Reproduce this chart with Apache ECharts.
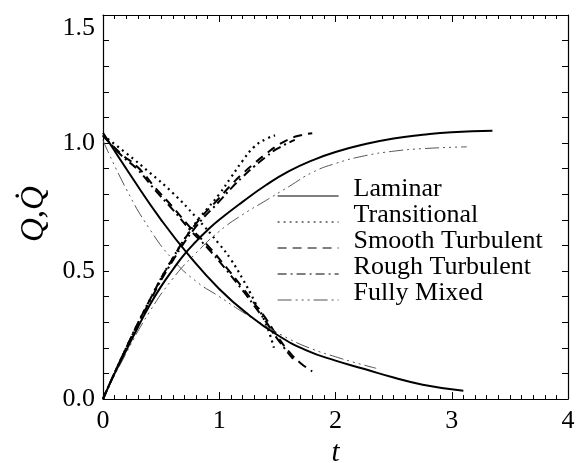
<!DOCTYPE html>
<html>
<head>
<meta charset="utf-8">
<script src="https://cdn.jsdelivr.net/npm/echarts@6/dist/echarts.min.js"></script>
<style>
  html, body { margin: 0; padding: 0; background: #fff; }
  #chart { width: 577px; height: 463px; }
</style>
</head>
<body>
<div id="chart"></div>
<script>
// Regime names (legend order)
const regimes = ['Laminar', 'Transitional', 'Smooth Turbulent', 'Rough Turbulent', 'Fully Mixed'];

// Tick labels
const xTicks = [0, 1, 2, 3, 4];
const yTicks = ['0.0', '0.5', '1.0', '1.5'];

// Laminar: Q (falling) and Q-dot (rising)
const lamQ_t = [0, 0.25, 0.5, 0.75, 1.0, 1.25, 1.5, 1.75, 2.0, 2.25, 2.5, 2.75, 3.1];
const lamQ_v = [1.04, 0.865, 0.70, 0.555, 0.43, 0.33, 0.25, 0.19, 0.15, 0.117, 0.084, 0.056, 0.032];
const lamQd_t = [0, 0.1, 0.2, 0.3, 0.4, 0.5, 0.6, 0.7, 0.8, 0.9, 1.0, 1.2, 1.4, 1.6, 1.8, 2.0, 2.25, 2.5, 2.75, 3.0, 3.35];
const lamQd_v = [0, 0.1, 0.19, 0.28, 0.365, 0.44, 0.505, 0.565, 0.615, 0.66, 0.70, 0.77, 0.835, 0.89, 0.932, 0.965, 0.995, 1.018, 1.032, 1.042, 1.048];

// Transitional
const traQ_t = [0, 0.2, 0.4, 0.6, 0.8, 1.0, 1.1, 1.2, 1.3, 1.4, 1.47];
const traQ_v = [1.03, 0.96, 0.885, 0.805, 0.71, 0.605, 0.545, 0.47, 0.385, 0.295, 0.2];
const traQd_t = [0, 0.2, 0.4, 0.6, 0.8, 0.9, 1.0, 1.1, 1.2, 1.3, 1.4, 1.48];
const traQd_v = [0, 0.2, 0.385, 0.55, 0.69, 0.745, 0.80, 0.865, 0.93, 0.985, 1.015, 1.03];

// Smooth turbulent
const smoQ_t = [0, 0.15, 0.3, 0.45, 0.6, 0.75, 0.9, 1.05, 1.2, 1.3, 1.4, 1.5, 1.6, 1.7, 1.8];
const smoQ_v = [1.03, 0.96, 0.905, 0.825, 0.75, 0.67, 0.6, 0.52, 0.435, 0.375, 0.315, 0.245, 0.185, 0.14, 0.108];
const smoQd_t = [0, 0.2, 0.4, 0.6, 0.8, 1.0, 1.1, 1.2, 1.3, 1.4, 1.5, 1.6, 1.7, 1.8];
const smoQd_v = [0, 0.2, 0.385, 0.55, 0.685, 0.785, 0.835, 0.88, 0.92, 0.957, 0.99, 1.015, 1.03, 1.038];

// Rough turbulent
const rouQ_t = [0, 0.15, 0.3, 0.45, 0.6, 0.75, 0.9, 1.05, 1.2, 1.3, 1.4, 1.5, 1.65];
const rouQ_v = [1.03, 0.955, 0.895, 0.815, 0.74, 0.66, 0.59, 0.51, 0.425, 0.365, 0.303, 0.235, 0.148];
const rouQd_t = [0, 0.2, 0.4, 0.6, 0.8, 1.0, 1.1, 1.2, 1.3, 1.4, 1.5, 1.65];
const rouQd_v = [0, 0.2, 0.38, 0.54, 0.673, 0.772, 0.822, 0.867, 0.908, 0.945, 0.978, 1.012];

// Fully mixed
const mixQ_t = [0, 0.2, 0.4, 0.6, 0.8, 1.0, 1.2, 1.4, 1.6, 1.8, 2.0, 2.2, 2.35];
const mixQ_v = [1.01, 0.82, 0.665, 0.545, 0.46, 0.40, 0.34, 0.285, 0.235, 0.195, 0.165, 0.138, 0.12];
const mixQd_t = [0, 0.2, 0.4, 0.6, 0.8, 1.0, 1.2, 1.4, 1.6, 1.8, 2.0, 2.25, 2.5, 2.75, 3.13];
const mixQd_v = [0, 0.18, 0.34, 0.47, 0.57, 0.655, 0.72, 0.775, 0.83, 0.885, 0.92, 0.95, 0.968, 0.978, 0.985];

const FONT = 'Liberation Serif';

const styles = {
  'Laminar':          { color: '#000', width: 2,   type: 'solid' },
  'Transitional':     { color: '#000', width: 2.2, type: [2, 4] },
  'Smooth Turbulent': { color: '#000', width: 2,   type: [9, 6] },
  'Rough Turbulent':  { color: '#000', width: 2,   type: [9, 4, 2, 4] },
  'Fully Mixed':      { color: '#555', width: 1,   type: [14, 4, 2, 4, 2, 4, 2, 4] }
};

function zip(ts, vs) { return ts.map((t, i) => [t, vs[i]]); }

function curve(name, ts, vs) {
  const s = styles[name];
  return {
    name: name,
    type: 'line',
    data: zip(ts, vs),
    symbol: 'none',
    smooth: 0.5,
    color: s.color,
    lineStyle: { color: s.color, width: s.width, type: s.type, cap: 'butt' },
    z: name === 'Laminar' ? 5 : 3
  };
}

const series = [
  curve('Laminar', lamQ_t, lamQ_v),
  curve('Transitional', traQ_t, traQ_v),
  curve('Smooth Turbulent', smoQ_t, smoQ_v),
  curve('Rough Turbulent', rouQ_t, rouQ_v),
  curve('Fully Mixed', mixQ_t, mixQ_v),
  curve('Laminar', lamQd_t, lamQd_v),
  curve('Transitional', traQd_t, traQd_v),
  curve('Smooth Turbulent', smoQd_t, smoQd_v),
  curve('Rough Turbulent', rouQd_t, rouQd_v),
  curve('Fully Mixed', mixQd_t, mixQd_v)
];

const axisLine = { show: true, onZero: false, lineStyle: { color: '#000', width: 1.2 } };

const option = {
  backgroundColor: '#fff',
  animation: false,
  grid: { left: 103, right: 9, top: 15, bottom: 64, containLabel: false, outerBoundsMode: 'none' },
  legend: {
    data: regimes,
    orient: 'vertical',
    left: 272,
    top: 171,
    itemWidth: 61,
    itemHeight: 14,
    itemGap: -14,
    selectedMode: false,
    itemStyle: { opacity: 0, borderWidth: 0 },
    lineStyle: { width: 1.2 },
    formatter: name => '{n|' + name + '}',
    textStyle: {
      fontFamily: FONT, fontSize: 26, color: '#000',
      rich: {
        n: { fontFamily: FONT, fontSize: 26, color: '#000', lineHeight: 27, padding: [0, 0, 14, 10] }
      }
    }
  },
  xAxis: [
    {
      type: 'value', position: 'bottom', min: xTicks[0], max: xTicks[xTicks.length - 1], interval: 1,
      name: 't', nameLocation: 'middle', nameGap: 40,
      nameTextStyle: { fontFamily: FONT, fontStyle: 'italic', fontSize: 29, color: '#000' },
      axisLine: axisLine,
      axisTick: { show: true, inside: true, length: 7, lineStyle: { color: '#000' } },
      minorTick: { show: true, splitNumber: 10, length: 4, lineStyle: { color: '#000' } },
      splitLine: { show: false },
      axisLabel: { fontFamily: FONT, fontSize: 26, color: '#000', margin: 9,
        formatter: v => String(v) }
    },
    {
      type: 'value', position: 'top', min: xTicks[0], max: xTicks[xTicks.length - 1], interval: 1,
      axisLine: axisLine,
      axisTick: { show: true, inside: true, length: 7, lineStyle: { color: '#000' } },
      minorTick: { show: true, splitNumber: 10, length: 4, lineStyle: { color: '#000' } },
      splitLine: { show: false },
      axisLabel: { show: false }
    }
  ],
  yAxis: [
    {
      type: 'value', position: 'left', min: 0, max: 1.5, interval: 0.5,
      name: 'Q,Q\u0307', nameLocation: 'middle', nameGap: 52, nameRotate: 90,
      nameTextStyle: { fontFamily: FONT, fontStyle: 'italic', fontSize: 33, color: '#000',
        padding: [0, 14, 0, 0] },
      axisLine: axisLine,
      axisTick: { show: true, inside: true, length: 6, lineStyle: { color: '#000' } },
      minorTick: { show: true, splitNumber: 5, length: 6, lineStyle: { color: '#000' } },
      splitLine: { show: false },
      axisLabel: { fontFamily: FONT, fontSize: 26, color: '#000', margin: 8,
        verticalAlignMaxLabel: 'top',
        formatter: v => yTicks[Math.round(v / 0.5)] }
    },
    {
      type: 'value', position: 'right', min: 0, max: 1.5, interval: 0.5,
      axisLine: axisLine,
      axisTick: { show: true, inside: true, length: 6, lineStyle: { color: '#000' } },
      minorTick: { show: true, splitNumber: 5, length: 6, lineStyle: { color: '#000' } },
      splitLine: { show: false },
      axisLabel: { show: false }
    }
  ],
  series: series
};

const chart = echarts.init(document.getElementById('chart'), null, { renderer: 'canvas' });
chart.setOption(option);
</script>
</body>
</html>
